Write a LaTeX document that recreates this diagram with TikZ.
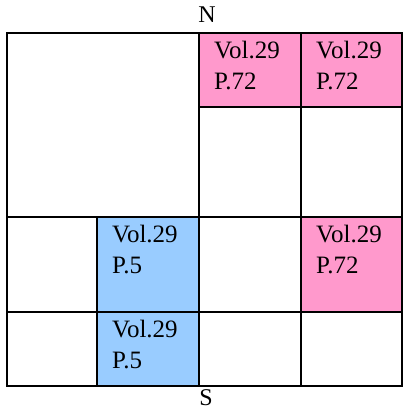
\documentclass[tikz,border=0pt]{standalone}
\usepackage{fontspec}
\setmainfont{Liberation Serif}
\usepackage{tikz}
\usetikzlibrary{positioning}
\definecolor{volpink}{HTML}{FF99CC}
\definecolor{volblue}{HTML}{99CCFF}

\begin{document}
\begin{tikzpicture}[x=1pt, y=-1pt,
	cell/.style={draw, line width=2pt, anchor=north west, inner sep=0pt, outer sep=0pt},
	vol/.style={anchor=north west, align=left, inner sep=0pt, font=\fontsize{25}{30.5}\selectfont},
	compass/.style={anchor=base, inner sep=0pt, font=\fontsize{24}{26}\selectfont}]
	\useasboundingbox (0,0) rectangle (403,416);
	% empty cells
	\node [cell, minimum width=192pt, minimum height=184pt] (big) at (7,33) {};
	\node [cell, minimum width=102pt, minimum height=110pt] (d) at (199,107) {};
	\node [cell, minimum width=101pt, minimum height=110pt] (e) at (301,107) {};
	\node [cell, minimum width=90pt, minimum height=95pt] (f) at (7,217) {};
	\node [cell, minimum width=102pt, minimum height=95pt] (h) at (199,217) {};
	\node [cell, minimum width=90pt, minimum height=74pt] (j) at (7,312) {};
	\node [cell, minimum width=102pt, minimum height=74pt] (l) at (199,312) {};
	\node [cell, minimum width=101pt, minimum height=74pt] (m) at (301,312) {};
	% coloured cells
	\node [cell, fill=volpink, minimum width=102pt, minimum height=74pt] (b) at (199,33) {};
	\node [cell, fill=volpink, minimum width=101pt, minimum height=74pt] (c) at (301,33) {};
	\node [cell, fill=volblue, minimum width=102pt, minimum height=95pt] (g) at (97,217) {};
	\node [cell, fill=volpink, minimum width=101pt, minimum height=95pt] (i) at (301,217) {};
	\node [cell, fill=volblue, minimum width=102pt, minimum height=74pt] (k) at (97,312) {};
	% labels
	\foreach \c/\p in {b/72, c/72, g/5, i/72, k/5}
		\node [vol] (t\c) at ([shift={(15pt,-8pt)}]\c.north west) {Vol.29\\P.\p};
	\node [compass] (north) at (207,22.5) {N};
	\node [compass] (south) at (206,405) {S};
\end{tikzpicture}
\end{document}
